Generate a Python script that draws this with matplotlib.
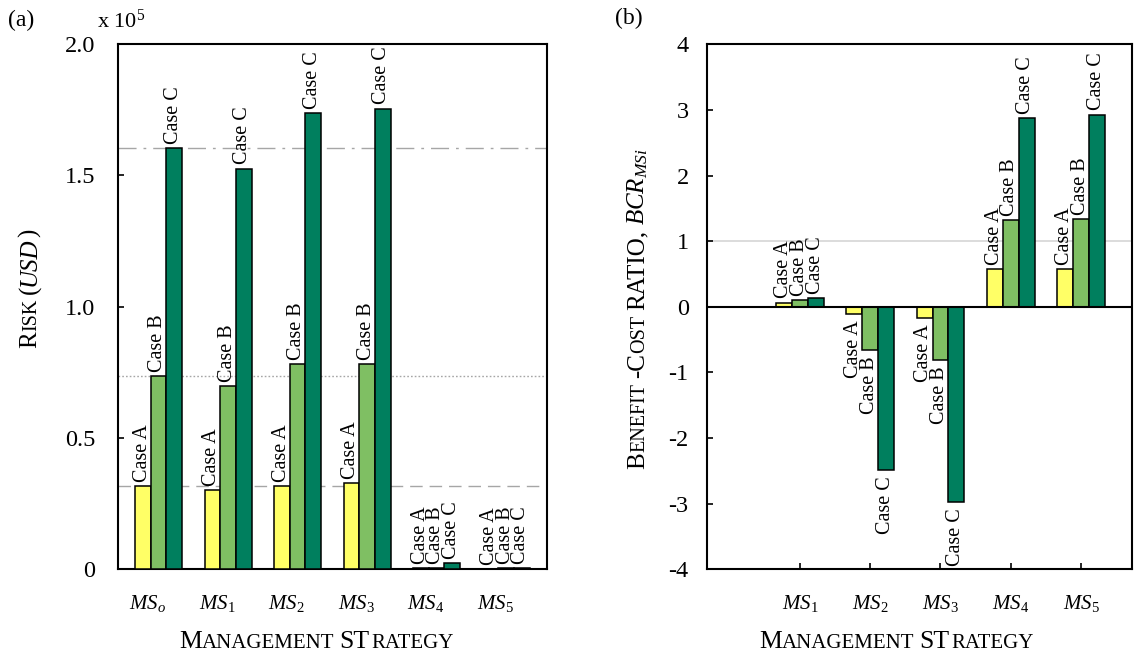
import numpy as np
import matplotlib
matplotlib.use('Agg')
import matplotlib.pyplot as plt
from matplotlib import rcParams
from matplotlib.transforms import ScaledTranslation

rcParams['font.family'] = 'Liberation Serif'
rcParams['mathtext.fontset'] = 'custom'
rcParams['mathtext.rm'] = 'Liberation Serif'
rcParams['mathtext.it'] = 'Liberation Serif:italic'
rcParams['mathtext.bf'] = 'Liberation Serif:bold'
rcParams['axes.unicode_minus'] = False

# risk per management strategy, in units of 10^5 USD
strategies_a = [r'$MS_{\mathit{o}}$', r'$MS_{\mathit{1}}$', r'$MS_{\mathit{2}}$',
                r'$MS_{\mathit{3}}$', r'$MS_{\mathit{4}}$', r'$MS_{\mathit{5}}$']
risk_case_a = [0.317, 0.301, 0.316, 0.326, 0.003, 0.001]
risk_case_b = [0.735, 0.697, 0.781, 0.780, 0.003, 0.004]
risk_case_c = [1.603, 1.526, 1.738, 1.755, 0.022, 0.004]

# benefit-cost ratio of each strategy
strategies_b = [r'$MS_{\mathit{1}}$', r'$MS_{\mathit{2}}$', r'$MS_{\mathit{3}}$',
                r'$MS_{\mathit{4}}$', r'$MS_{\mathit{5}}$']
bcr_case_a = [0.064, -0.114, -0.17, 0.58, 0.58]
bcr_case_b = [0.10, -0.66, -0.815, 1.32, 1.34]
bcr_case_c = [0.134, -2.49, -2.97, 2.87, 2.93]

case_names = ['Case A', 'Case B', 'Case C']
colors = ['#FFFF66', '#7FBF63', '#007F5E']

W, H = 1134, 655
fig = plt.figure(figsize=(W / 100, H / 100), dpi=100)


def px_axes(left, top, right, bottom):
    return fig.add_axes([left / W, 1 - bottom / H, (right - left) / W, (bottom - top) / H])


def label_bars(ax, xs, vals, text):
    for x, v in zip(xs, vals):
        if v >= 0:
            ax.annotate(text, (x, v), xytext=(2.7, 3), textcoords='offset points',
                        rotation=90, rotation_mode='anchor', ha='left', va='baseline',
                        fontsize=14.5)
        else:
            ax.annotate(text, (x, v), xytext=(2.7, -4.5), textcoords='offset points',
                        rotation=90, rotation_mode='anchor', ha='right', va='baseline',
                        fontsize=14.5)


def grouped_bars(ax, pos, series, width):
    for k, (vals, name, c) in enumerate(zip(series, case_names, colors)):
        xs = pos + (k - 1) * width
        ax.bar(xs, vals, width, color=c, edgecolor='black', linewidth=1.1, zorder=3)
        label_bars(ax, xs, vals, name)


def style_box(ax):
    for s in ax.spines.values():
        s.set_linewidth(1.5)


def caps_text(x_px, y_px, parts, rotation=0):
    # parts: (text, size, style) or a float gap in pixels; centred on (x_px, y_px)
    renderer = fig.canvas.get_renderer()
    lengths = []
    for p in parts:
        if isinstance(p, (int, float)):
            lengths.append(p)
            continue
        t = fig.text(0, 0, p[0], fontsize=p[1], fontstyle=p[2])
        lengths.append(t.get_window_extent(renderer).width)
        t.remove()
    pos = -sum(lengths) / 2
    for p, L in zip(parts, lengths):
        if not isinstance(p, (int, float)):
            if rotation == 0:
                x, y = x_px + pos, y_px
            else:
                x, y = x_px, y_px + pos
            fig.text(x / W, y / H, p[0], fontsize=p[1], fontstyle=p[2],
                     rotation=rotation, rotation_mode='anchor', ha='left', va='baseline')
        pos += L


# ---- (a) risk ----
ax1 = px_axes(117.7, 44.3, 546.7, 569)
pos_a = np.arange(len(strategies_a))
grouped_bars(ax1, pos_a, [risk_case_a, risk_case_b, risk_case_c], 0.225)
ax1.axhline(risk_case_c[0], color='#A6A6A6', lw=1.0, dashes=(13, 5, 2, 5), zorder=1)
ax1.axhline(risk_case_b[0], color='#A6A6A6', lw=1.0, dashes=(1.2, 1.5), zorder=1)
ax1.axhline(risk_case_a[0], color='#A6A6A6', lw=1.0, dashes=(9, 5), zorder=1)
ax1.set_xlim(-0.589, 5.585)
ax1.set_ylim(0, 2.0)
ax1.set_yticks([0, 0.5, 1.0, 1.5, 2.0])
ax1.set_yticklabels(['0', '0.5', '1.0', '1.5', '2.0'])
ax1.set_xticks(pos_a)
ax1.set_xticklabels(strategies_a, fontsize=15)
ax1.tick_params(axis='x', length=0, pad=17)
ax1.tick_params(axis='y', direction='in', length=4, width=1.2, pad=16, labelsize=17.5)
shift = ScaledTranslation(-0.11, 0, fig.dpi_scale_trans)
for lab in ax1.get_xticklabels():
    lab.set_transform(lab.get_transform() + shift)
style_box(ax1)

# ---- (b) benefit-cost ratio ----
ax2 = px_axes(706.7, 44.3, 1132, 569.3)
pos_b = np.arange(1, len(strategies_b) + 1)
ax2.axhline(1, color='#D9D9D9', lw=1.3, zorder=1)
grouped_bars(ax2, pos_b, [bcr_case_a, bcr_case_b, bcr_case_c], 0.227)
ax2.axhline(0, color='black', lw=1.5, zorder=4)
ax2.set_xlim(-0.328, 5.726)
ax2.set_ylim(-4, 4)
ax2.set_yticks(range(-4, 5))
ax2.set_yticklabels([str(v) for v in range(-4, 5)])
ax2.set_xticks(pos_b)
ax2.set_xticklabels(strategies_b, fontsize=15)
ax2.tick_params(axis='x', direction='in', length=4.5, width=1.2, pad=17)
ax2.tick_params(axis='y', direction='in', length=4.5, width=1.2, pad=13, labelsize=17.5)
style_box(ax2)

# panel tags, multiplier and axis titles
fig.text(8 / W, 1 - 26 / H, '(a)', fontsize=17, va='baseline')
fig.text(615 / W, 1 - 24 / H, '(b)', fontsize=17, va='baseline')
fig.text(97 / W, 1 - 28 / H, r'x 10$^{5}$', fontsize=16, va='baseline')

big, small = 18.5, 15
caps_text(316.6, H - 648, [('M', big, 'normal'), ('ANAGEMENT', small, 'normal'), 5.0,
                           ('ST', big, 'normal'), 2.0, ('RATEGY', small, 'normal')])
caps_text(896.7, H - 648, [('M', big, 'normal'), ('ANAGEMENT', small, 'normal'), 5.0,
                           ('ST', big, 'normal'), 2.0, ('RATEGY', small, 'normal')])
caps_text(36, H - 288.5, [('R', 18, 'normal'), ('ISK', 14.5, 'normal'), 5.0,
                          ('(', 18, 'normal'), ('USD', 18, 'italic'), (')', 18, 'normal')],
          rotation=90)
caps_text(644, H - 308.5, [('B', 18, 'normal'), ('ENEFIT', 14.5, 'normal'), 5.0,
                           ('-C', 18, 'normal'), ('OST', 14.5, 'normal'), 5.0,
                           ('RATIO,', 18, 'normal'), 5.0,
                           (r'$BCR_{MSi}$', 18, 'normal')],
          rotation=90)

fig.savefig('out.png', dpi=100)
